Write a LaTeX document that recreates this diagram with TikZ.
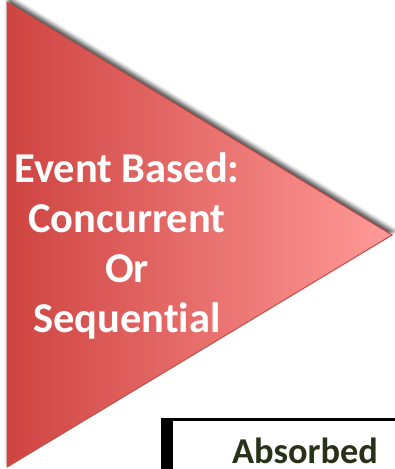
\documentclass[tikz,border=0pt]{standalone}
\usepackage{fontspec}
\setmainfont{Carlito}[Ligatures=NoCommon]
\usetikzlibrary{shadows.blur}

\definecolor{evdark}{RGB}{207,68,65}
\definecolor{evlight}{RGB}{255,154,152}
\definecolor{evborder}{RGB}{196,76,72}
\definecolor{absgreen}{RGB}{40,50,24}

\newcommand\evtextstyle{\fontsize{42.5}{50}\selectfont\bfseries}
\newcommand\abstextstyle{\fontsize{36.4}{44}\selectfont\bfseries}
\newcommand\evshadow{[blur shadow={shadow xshift=1.5pt, shadow yshift=4pt, shadow blur radius=4pt, shadow opacity=70}]}

\begin{document}
\begin{tikzpicture}[x=1pt, y=-1pt]
    \useasboundingbox (0, 0) rectangle (395, 469) ;
    % arrow head
    \draw [left color=evdark, right color=evlight, draw=evborder, line width=1pt]\evshadow
      (7, 2) -- (392, 235) -- (7, 467) -- cycle ;
    \draw (127, 332) node [anchor=base, align=center, text=white, inner sep=0pt, font=\evtextstyle] (evtext)
      {Event Based:\\Concurrent\\Or\\Sequential} ;
    % box below
    \draw [line width=2.5pt] (161, 419.5) -- (395, 419.5) ;
    \fill (161, 418.5) rectangle (173, 469) ;
    \draw (305, 463) node [anchor=base, text=absgreen, inner sep=0pt, font=\abstextstyle] (absorbed)
      {Absorbed} ;
\end{tikzpicture}
\end{document}
